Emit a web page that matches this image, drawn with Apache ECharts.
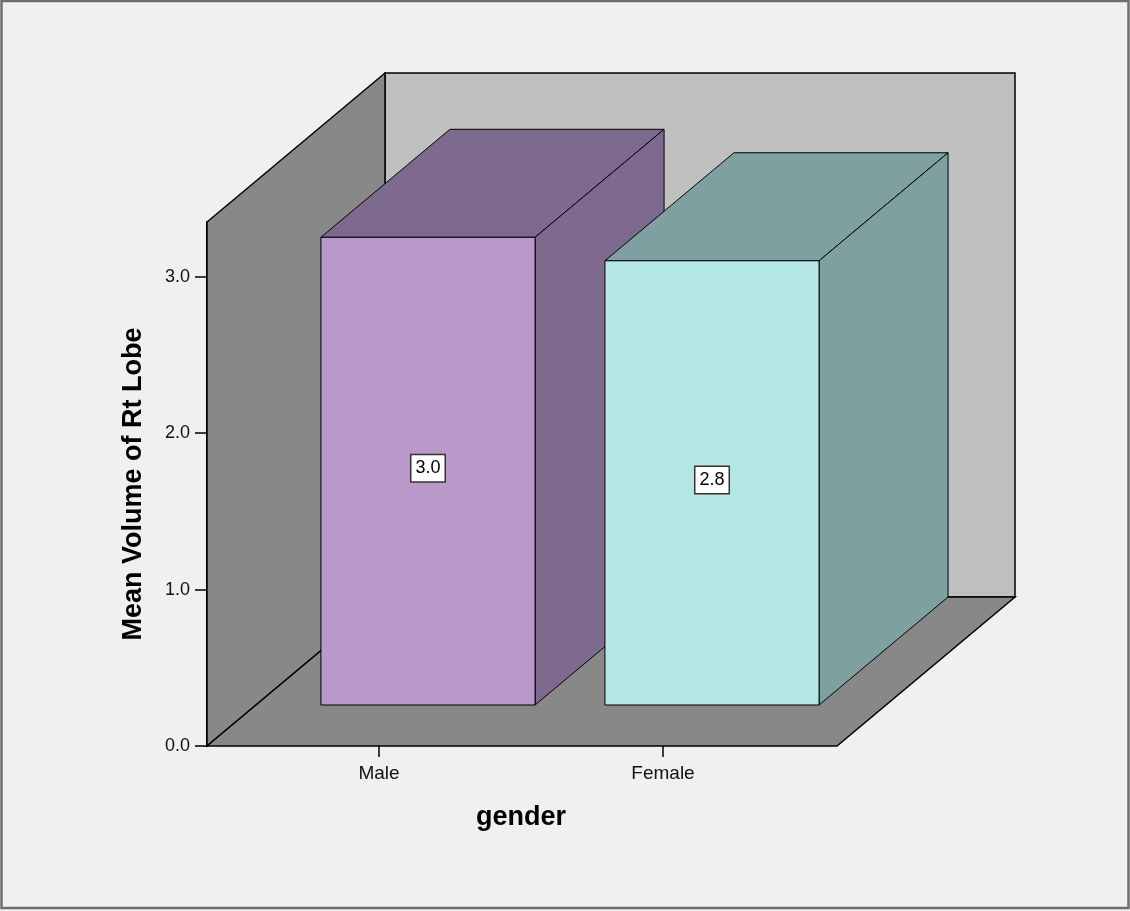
<!DOCTYPE html>
<html>
<head>
<meta charset="utf-8">
<script src="https://cdn.jsdelivr.net/npm/echarts@6/dist/echarts.min.js"></script>
<style>
    html, body { margin: 0; padding: 0; background: #f0f0f0; }
    #chart { width: 1130px; height: 911px; }
</style>
</head>
<body>
<div id="chart"></div>
<script>
// data
const categories = ['Male', 'Female'];
const meanValues = [2.99, 2.84];
const yTicks = [0, 1, 2, 3];
const yMax = 3.35;

// colours per category: front face, top/side
const frontColors = ['#b899c9', '#b5e6e6'];
const sideColors = ['#7e6a8e', '#7ea0a0'];

const FONT = '"Liberation Sans", Arial, sans-serif';

// 3d look (pixels)
const WALL_DX = 178, WALL_DY = -149;   // full depth of the room
const BAR_FX = 49, BAR_FY = -41;       // bar front face shift
const BAR_DX = 129, BAR_DY = -108;     // bar depth
const PAD_L = 30, PAD_R = 32;          // floor extends beyond category band

const chart = echarts.init(document.getElementById('chart'));

function renderWalls(params, api) {
    const cs = params.coordSys;
    const x0 = cs.x - PAD_L;
    const x1 = cs.x + cs.width + PAD_R;
    const yb = api.coord([0, 0])[1];
    const yt = api.coord([0, yMax])[1];
    const line = { stroke: '#000', lineWidth: 1.5 };
    return {
        type: 'group',
        children: [
            {   // back wall
                type: 'polygon',
                shape: { points: [[x0 + WALL_DX, yt + WALL_DY], [x1 + WALL_DX, yt + WALL_DY], [x1 + WALL_DX, yb + WALL_DY], [x0 + WALL_DX, yb + WALL_DY]] },
                style: Object.assign({ fill: '#c0c0c0' }, line)
            },
            {   // left wall
                type: 'polygon',
                shape: { points: [[x0, yb], [x0, yt], [x0 + WALL_DX, yt + WALL_DY], [x0 + WALL_DX, yb + WALL_DY]] },
                style: Object.assign({ fill: '#888888' }, line)
            },
            {   // floor
                type: 'polygon',
                shape: { points: [[x0, yb], [x1, yb], [x1 + WALL_DX, yb + WALL_DY], [x0 + WALL_DX, yb + WALL_DY]] },
                style: Object.assign({ fill: '#888888' }, line)
            }
        ]
    };
}

function renderBar(params, api) {
    const idx = api.value(0);
    const val = api.value(1);
    const top = api.coord([idx, val]);
    const base = api.coord([idx, 0]);
    const w = api.size([1, 0])[0] * 0.754;
    const l = top[0] - w / 2 + BAR_FX;
    const r = l + w;
    const t = top[1] + BAR_FY;
    const b = base[1] + BAR_FY;
    const line = { stroke: '#000', lineWidth: 1 };
    return {
        type: 'group',
        children: [
            {
                type: 'polygon',
                shape: { points: [[l, t], [r, t], [r + BAR_DX, t + BAR_DY], [l + BAR_DX, t + BAR_DY]] },
                style: Object.assign({ fill: sideColors[idx] }, line)
            },
            {
                type: 'polygon',
                shape: { points: [[r, t], [r + BAR_DX, t + BAR_DY], [r + BAR_DX, b + BAR_DY], [r, b]] },
                style: Object.assign({ fill: sideColors[idx] }, line)
            },
            {
                type: 'rect',
                shape: { x: l, y: t, width: w, height: b - t },
                style: Object.assign({ fill: frontColors[idx] }, line)
            },
            {
                type: 'text',
                x: (l + r) / 2,
                y: (t + b) / 2 - 3,
                style: {
                    text: val.toFixed(1),
                    align: 'center',
                    verticalAlign: 'middle',
                    font: '18px ' + FONT,
                    fill: '#000',
                    backgroundColor: '#fff',
                    borderColor: '#333',
                    borderWidth: 1.5,
                    padding: [5, 4, 3, 4]
                }
            }
        ]
    };
}

const options = {
    backgroundColor: '#f0f0f0',
    animation: false,
    graphic: [{
        type: 'rect',
        shape: { x: 1.5, y: 1, width: 1127, height: 907 },
        style: { fill: 'none', stroke: '#6e6e6e', lineWidth: 2.5 },
        z: 100
    }],
    grid: {
        left: 237,
        right: 325,
        top: 222,
        bottom: 165,
        containLabel: false,
        outerBoundsMode: 'none'
    },
    xAxis: {
        type: 'category',
        data: categories,
        name: 'gender',
        nameLocation: 'middle',
        nameGap: 58,
        nameTextStyle: { fontFamily: FONT, fontWeight: 'bold', fontSize: 27, color: '#000' },
        axisLine: { show: false },
        axisTick: { show: true, alignWithLabel: true, length: 11, lineStyle: { color: '#000', width: 1.5 } },
        axisLabel: { fontFamily: FONT, fontSize: 19, color: '#111', margin: 18 },
        splitLine: { show: false }
    },
    yAxis: {
        type: 'value',
        min: 0,
        max: yMax,
        interval: 1,
        offset: PAD_L,
        name: 'Mean Volume of Rt Lobe',
        nameLocation: 'middle',
        nameGap: 60,
        nameTextStyle: { fontFamily: FONT, fontWeight: 'bold', fontSize: 27, color: '#000' },
        axisLine: { show: true, lineStyle: { color: '#000', width: 2 } },
        axisTick: { show: true, length: 12, customValues: yTicks, lineStyle: { color: '#000', width: 1.5 } },
        axisLabel: {
            fontFamily: FONT, fontSize: 18, color: '#111', margin: 17,
            customValues: yTicks,
            formatter: v => v.toFixed(1)
        },
        splitLine: { show: false }
    },
    series: [
        {
            type: 'custom',
            renderItem: renderWalls,
            data: [[0, 0]],
            silent: true,
            z: 1
        },
        {
            type: 'custom',
            renderItem: renderBar,
            data: categories.map((c, i) => [i, meanValues[i]]),
            z: 2
        }
    ]
};

chart.setOption(options);
</script>
</body>
</html>
